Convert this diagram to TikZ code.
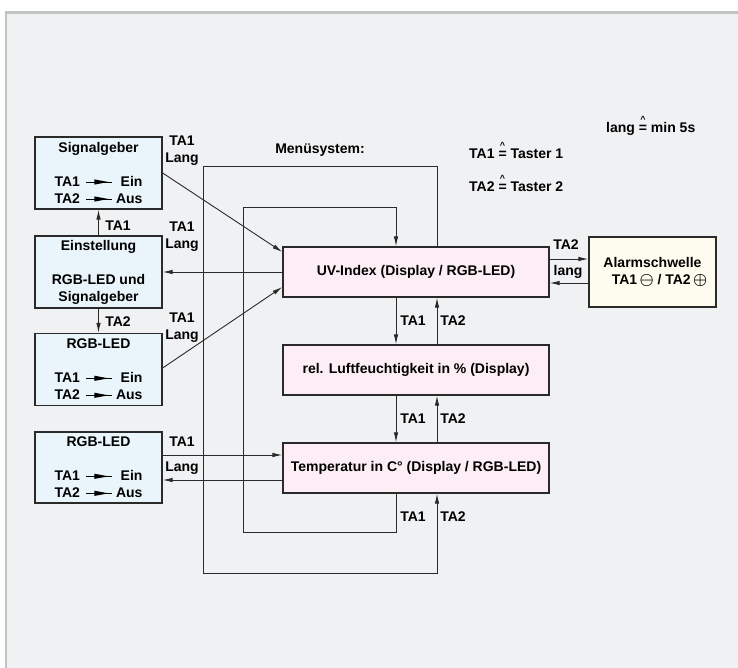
\documentclass[tikz,border=0pt]{standalone}
\usepackage{amsmath,amssymb}
\usepackage{fontspec}
\setmainfont{Liberation Sans}
\usepackage{xcolor}
\usetikzlibrary{arrows.meta,positioning}

\definecolor{hgrund}{HTML}{F0F1F3}
\definecolor{rahmen}{HTML}{BFC5C5}
\definecolor{blaufill}{HTML}{E9F4FB}
\definecolor{rosafill}{HTML}{FCEEF4}
\definecolor{gelbfill}{HTML}{FEFCEE}
\definecolor{linie}{HTML}{2A2A2A}

\newcommand{\pfeil}{\tikz[baseline=-4.5pt]{\draw[line width=1pt] (0pt,0pt) -- (26pt,0pt); \fill (8pt,2.6pt) -- (22pt,0pt) -- (8pt,-2.6pt) -- cycle;}}
\newcommand{\zeile}[2]{\makebox[88pt][l]{#1\hspace{6pt}\pfeil\hfill#2}}
\newcommand{\entspr}{\ensuremath{\mathrel{\stackrel{\text{\fontsize{9pt}{9pt}\selectfont\textasciicircum}}{\text{=}}}}}
\newcommand{\kreis}[1]{\raisebox{0pt}{\scalebox{1.1}{$\boldsymbol{#1}$}}}

\begin{document}
\begin{tikzpicture}[x=1pt, y=-1pt, node distance=98pt, font=\bfseries\fontsize{14pt}{17pt}\selectfont]
\tikzstyle{taste} = [rectangle, draw=linie, line width=1.3pt, fill=blaufill, minimum width=127pt, minimum height=72pt, inner sep=0pt, align=center]
\tikzstyle{menue} = [rectangle, draw=linie, line width=1.3pt, fill=rosafill, minimum width=266pt, minimum height=50pt, inner sep=0pt, align=center]
\tikzstyle{alarmbox} = [rectangle, draw=linie, line width=1.3pt, fill=gelbfill, minimum width=127pt, minimum height=70pt, inner sep=0pt, align=center]
\tikzstyle{line} = [draw=linie, line width=0.9pt, -{Latex[length=10pt,width=4.5pt]}]
\tikzstyle{lbl} = [inner sep=0pt, align=center]

% Hintergrund und Rahmen
\useasboundingbox (0,0) rectangle (738,668);
\fill[white] (0,0) rectangle (738,668);
\fill[hgrund] (5,12) rectangle (738,668);
\draw[rahmen, line width=3pt] (5,12.5) -- (738,12.5);
\draw[rahmen, line width=2.5pt] (6.2,12) -- (6.2,668);

% Legende
\node[lbl, anchor=west] (lang) at (606,125) {lang \entspr{} min 5s};
\node[lbl, anchor=west] (ta1) at (469,150) {TA1 \entspr{} Taster 1};
\node[lbl, anchor=west] (ta2) at (469,183) {TA2 \entspr{} Taster 2};
\node[lbl] (menue) at (320,150) {Menüsystem:};

% Tastenmenue links
\node[taste] (sig) at (98.5,173) {Signalgeber\\[17pt]\zeile{TA1}{Ein}\\\zeile{TA2}{Aus}};
\node[taste] (einst) at (98.5,272) {Einstellung\\[17pt]RGB-LED und\\Signalgeber};
\node[taste] (rgbA) at (98.5,369.5) {RGB-LED\\[17pt]\zeile{TA1}{Ein}\\\zeile{TA2}{Aus}};
\node[taste, minimum height=71pt] (rgbB) at (98.5,467.5) {RGB-LED\\[17pt]\zeile{TA1}{Ein}\\\zeile{TA2}{Aus}};

% Anzeigen
\node[menue] (uv) at (416,272) {UV-Index (Display / RGB-LED)};
\node[menue, below of=uv] (rel) {rel. Luftfeuchtigkeit in \% (Display)};
\node[menue, below of=rel] (temp) {Temperatur in C° (Display / RGB-LED)};
\node[alarmbox] (alarm) at (652.5,272) {Alarmschwelle\\\hspace*{14pt}TA1\,\kreis{\ominus} / TA2\,\kreis{\oplus}};

\coordinate (aussenoben) at (203,166);
\coordinate (aussenunten) at (203,573);
\coordinate (innenoben) at (243,207);
\coordinate (innenunten) at (243,532);

% Beschriftungen
\node[lbl] (lsig) at (182,151) {TA1\\Lang};
\node[lbl] (leinst) at (182,237) {TA1\\Lang};
\node[lbl] (lrgbA) at (182,328) {TA1\\Lang};
\node[lbl] (lrgbB) at (182,442) {TA1};
\node[lbl] (lrgbBlang) at (182,468) {Lang};
\node[lbl] (lhoch) at (118,226) {TA1};
\node[lbl] (lrunter) at (118,322) {TA2};
\node[lbl] (luvA) at (413,321) {TA1};
\node[lbl] (luvB) at (453,321) {TA2};
\node[lbl] (lrelA) at (413,419) {TA1};
\node[lbl] (lrelB) at (453,419) {TA2};
\node[lbl] (ltempA) at (413,517) {TA1};
\node[lbl] (ltempB) at (453,517) {TA2};
\node[lbl] (lalarm) at (566,245) {TA2};
\node[lbl] (lalarmlang) at (568,272) {lang};

% Verbindungen
\path [line] (einst.north) -- (sig.south);
\path [line] (einst.south) -- (rgbA.north);
\path [line] (sig.east) -- ([yshift=20pt]uv.west);
\path [line] (uv.west) -- (einst.east);
\path [line] ([yshift=1.5pt]rgbA.east) -- ([yshift=-15pt]uv.west);
\path [line] ([yshift=12.5pt]rgbB.east) -- ([yshift=13pt]temp.west);
\path [line] ([yshift=-12pt]temp.west) -- ([yshift=-12.5pt]rgbB.east);
\path [line] ([yshift=13pt]uv.east) -- ([yshift=13pt]alarm.west);
\path [line] ([yshift=-11pt]alarm.west) -- ([yshift=-11pt]uv.east);

\path [line] ([xshift=-20pt]uv.south) -- ([xshift=-20pt]rel.north);
\path [line] ([xshift=21pt]rel.north) -- ([xshift=21pt]uv.south);
\path [line] ([xshift=-20pt]rel.south) -- ([xshift=-20pt]temp.north);
\path [line] ([xshift=21pt]temp.north) -- ([xshift=21pt]rel.south);

\path [line] ([xshift=-20pt]temp.south) |- (innenunten) -- (innenoben) -| ([xshift=-20pt]uv.north);
\path [line] ([xshift=21pt]uv.north) |- (aussenoben) -- (aussenunten) -| ([xshift=21pt]temp.south);
\end{tikzpicture}
\end{document}
